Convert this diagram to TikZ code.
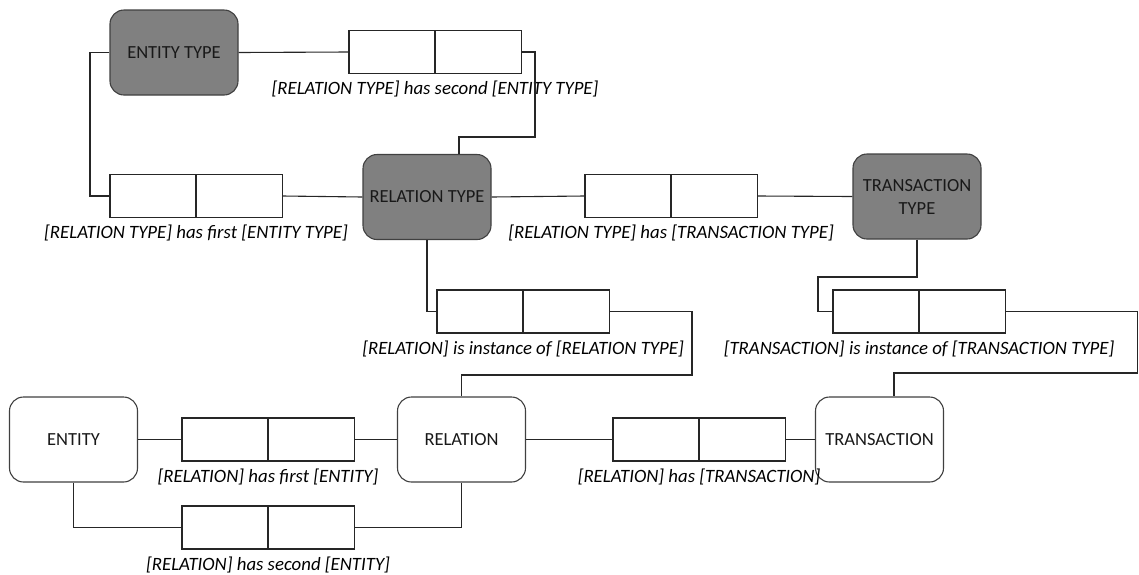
\documentclass[tikz,border=0pt]{standalone}
\usepackage{fontspec}
\setmainfont{Carlito}
\begin{document}
\begin{tikzpicture}[x=1pt,y=-1pt,
  typebox/.style={draw=black!75, fill=black!50, rounded corners=14pt,
    minimum width=128pt, minimum height=85pt, line width=1.1pt,
    inner sep=2pt, text=black!90, align=center,
    font=\fontsize{18.5}{23}\selectfont},
  instbox/.style={typebox, fill=white},
  cell/.style={draw=black!85, fill=white, minimum width=85.5pt,
    minimum height=43pt, line width=1.1pt, inner sep=0pt},
  lbl/.style={font=\fontsize{18.8}{22}\selectfont\itshape, inner sep=0pt,
    anchor=north, yshift=-7pt},
  link/.style={draw=black!85, line width=1.1pt}]

\useasboundingbox (0,0) rectangle (1139,574);

% type level
\node[typebox] (et) at (174,52.5) {ENTITY TYPE};
\node[typebox] (rt) at (427,197) {RELATION TYPE};
\node[typebox] (tt) at (917,196.5) {TRANSACTION\\TYPE};

% instance level
\node[instbox] (ent) at (73.5,439.5) {ENTITY};
\node[instbox] (rel) at (461.5,439.5) {RELATION};
\node[instbox] (tr) at (879.5,439.5) {TRANSACTION};

% two-cell relationship boxes
\node[cell] (a1) at (391.75,52) {};
\node[cell,anchor=west] (a2) at (a1.east) {};
\node[lbl] (la) at (a1.south east) {[RELATION TYPE] has second [ENTITY TYPE]};

\node[cell] (b1) at (152.75,196) {};
\node[cell,anchor=west] (b2) at (b1.east) {};
\node[lbl] (lb) at (b1.south east) {[RELATION TYPE] has first [ENTITY TYPE]};

\node[cell] (c1) at (627.75,196) {};
\node[cell,anchor=west] (c2) at (c1.east) {};
\node[lbl] (lc) at (c1.south east) {[RELATION TYPE] has [TRANSACTION TYPE]};

\node[cell] (d1) at (479.75,311.5) {};
\node[cell,anchor=west] (d2) at (d1.east) {};
\node[lbl] (ld) at (d1.south east) {[RELATION] is instance of [RELATION TYPE]};

\node[cell] (e1) at (875.75,311.5) {};
\node[cell,anchor=west] (e2) at (e1.east) {};
\node[lbl] (le) at (e1.south east) {[TRANSACTION] is instance of [TRANSACTION TYPE]};

\node[cell] (f1) at (224.75,439.5) {};
\node[cell,anchor=west] (f2) at (f1.east) {};
\node[lbl] (lf) at (f1.south east) {[RELATION] has first [ENTITY]};

\node[cell] (g1) at (224.75,527.5) {};
\node[cell,anchor=west] (g2) at (g1.east) {};
\node[lbl] (lg) at (g1.south east) {[RELATION] has second [ENTITY]};

\node[cell] (h1) at (655.75,439.5) {};
\node[cell,anchor=west] (h2) at (h1.east) {};
\node[lbl] (lh) at (h1.south east) {[RELATION] has [TRANSACTION]};

% connectors
\draw[link] (et.east) -- (a1.west);
\draw[link] (a2.east) -| (535,137) -| ([xshift=32pt]rt.north);
\draw[link] (et.west) -- (90,52.5) |- (b1.west);
\draw[link] (b2.east) -- (rt.west);
\draw[link] (rt.east) -- (c1.west);
\draw[link] (c2.east) -- (tt.west);
\draw[link] (rt.south) |- (d1.west);
\draw[link] (d2.east) -| (692,375) -| (rel.north);
\draw[link] (tt.south) |- (818,277) |- (e1.west);
\draw[link] (e2.east) -| (1137.5,373) -| ([xshift=14.5pt]tr.north);
\draw[link] (ent.east) -- (f1.west);
\draw[link] (f2.east) -- (rel.west);
\draw[link] (ent.south) |- (g1.west);
\draw[link] (g2.east) -| (rel.south);
\draw[link] (rel.east) -- (h1.west);
\draw[link] (h2.east) -- (tr.west);
\end{tikzpicture}
\end{document}
